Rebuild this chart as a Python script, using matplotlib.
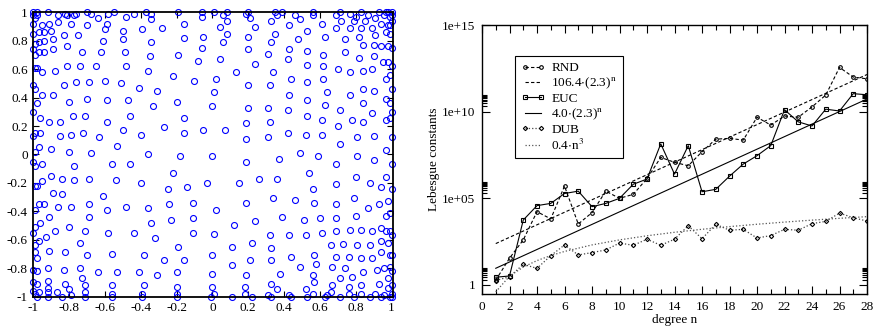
import numpy as np
import matplotlib
matplotlib.use('Agg')
import matplotlib.pyplot as plt
from matplotlib.ticker import MultipleLocator, FixedLocator, FixedFormatter, NullFormatter

plt.rcParams['font.family'] = ['Liberation Serif', 'DejaVu Serif']
plt.rcParams['mathtext.fontset'] = 'stix'
plt.rcParams['font.size'] = 9.5

# interpolation nodes on the square
nodes = [
    # upper left
    (-1.0,1.0),(-0.98,1.0),(-0.92,1.0),(-0.82,0.99),(-0.76,0.99),(-0.70,1.0),(-0.68,0.99),(-0.58,0.99),
    (-0.55,1.0),(-0.44,0.99),(-0.37,1.0),(-0.34,0.99),(-0.19,1.0),
    (-1.0,0.98),(-0.98,0.98),(-0.99,0.96),(-0.86,0.98),(-0.81,0.98),(-0.77,0.98),(-0.64,0.96),(-0.48,0.97),(-0.34,0.95),
    (-1.0,0.92),(-0.95,0.91),(-0.91,0.92),(-0.86,0.93),(-0.79,0.92),(-0.70,0.91),(-0.59,0.92),(-0.28,0.89),(-0.16,0.92),
    (-1.0,0.85),(-0.97,0.86),(-0.94,0.86),(-0.90,0.87),(-0.83,0.84),(-0.75,0.84),(-0.60,0.88),(-0.50,0.87),(-0.39,0.88),
    (-0.99,0.78),(-0.97,0.79),(-0.94,0.80),(-0.89,0.81),(-0.61,0.80),(-0.50,0.81),(-0.34,0.79),(-0.16,0.82),
    (-1.0,0.74),(-0.99,0.70),(-0.97,0.72),(-0.94,0.72),(-0.89,0.74),(-0.81,0.76),(-0.73,0.72),(-0.62,0.72),
    (-0.49,0.72),(-0.35,0.69),(-0.19,0.70),(-0.08,0.66),
    (-0.99,0.61),(-0.98,0.61),(-0.95,0.58),(-0.88,0.59),(-0.81,0.62),(-0.74,0.62),(-0.65,0.62),(-0.48,0.62),(-0.36,0.59),
    (-0.22,0.55),(-0.10,0.52),
    (-1.0,0.49),(-0.99,0.46),(-0.83,0.49),(-0.76,0.51),(-0.69,0.51),(-0.60,0.52),(-0.51,0.50),(-0.41,0.47),(-0.31,0.45),
    (-0.95,0.42),(-0.89,0.42),(-0.80,0.37),(-0.70,0.39),(-0.59,0.38),(-0.47,0.38),(-0.33,0.34),(-0.20,0.37),(-0.98,0.36),
    (-1.0,0.30),(-0.96,0.26),(-0.91,0.23),(-0.85,0.23),(-0.78,0.27),(-0.71,0.27),(-0.59,0.23),(-0.46,0.27),(-0.16,0.26),
    (-0.27,0.19),(-1.0,0.13),(-0.99,0.15),(-0.96,0.15),(-0.85,0.13),(-0.79,0.14),(-0.72,0.15),(-0.63,0.12),(-0.50,0.17),
    (-0.40,0.14),(-0.16,0.15),
    (-0.97,0.05),(-0.90,0.04),(-0.80,0.02),(-0.68,0.01),(-0.53,0.06),(-0.36,0.00),(-0.18,-0.01),(-0.99,0.02),
    # upper right
    (-0.06,1.0),(-0.06,0.97),(0.01,1.0),(0.06,0.98),(0.08,1.0),(0.08,0.94),(0.19,0.99),(0.20,1.0),(0.21,0.96),
    (0.35,1.0),(0.36,0.98),(0.39,1.0),(0.46,0.98),(0.49,0.95),(0.56,1.0),(0.56,0.98),(0.69,0.98),(0.71,1.0),
    (0.72,0.94),(0.77,0.99),(0.79,0.94),(0.80,0.97),(0.83,1.0),(0.85,0.94),(0.87,0.98),(0.91,0.96),(0.93,1.0),
    (0.94,0.92),(0.96,0.98),(0.97,1.0),(0.98,1.0),(0.99,0.97),(1.0,0.94),(1.0,1.0),(1.0,0.98),(0.98,0.91),(0.99,0.91),
    (0.04,0.90),(0.24,0.90),(0.33,0.94),(0.43,0.91),(0.53,0.87),(0.61,0.92),(0.69,0.89),(0.77,0.89),(0.83,0.89),
    (0.89,0.89),(0.97,0.86),(0.99,0.85),(-0.05,0.83),(0.08,0.85),(0.20,0.83),(0.35,0.85),(0.48,0.81),(0.63,0.83),
    (0.82,0.83),(0.91,0.84),
    (0.06,0.79),(-0.06,0.75),(0.20,0.74),(0.33,0.79),(0.43,0.74),(0.53,0.73),(0.74,0.81),(0.74,0.72),(0.84,0.77),
    (0.90,0.77),(0.94,0.76),(0.98,0.76),(1.0,0.75),
    (0.04,0.67),(0.24,0.64),(0.31,0.71),(0.42,0.67),(0.53,0.63),(0.62,0.70),(0.62,0.62),(0.82,0.68),(0.90,0.69),
    (0.95,0.65),(0.98,0.65),(1.0,0.62),
    (0.13,0.58),(0.34,0.58),(0.70,0.60),(0.77,0.58),(0.84,0.59),(0.89,0.60),(0.99,0.56),(0.97,0.53),(0.02,0.53),
    (0.20,0.49),(0.32,0.49),(0.44,0.53),(0.53,0.51),(0.62,0.53),
    (0.01,0.44),(0.43,0.42),(0.64,0.44),(0.77,0.42),(0.84,0.46),(0.90,0.45),(1.0,0.46),(0.97,0.39),
    (0.0,0.34),(0.20,0.33),(0.31,0.33),(0.42,0.31),(0.53,0.38),(0.63,0.35),(0.71,0.31),(0.84,0.36),(0.99,0.36),(0.89,0.29),
    (-0.05,0.17),(0.07,0.17),(0.19,0.22),(0.32,0.23),(0.53,0.27),(0.61,0.24),(0.70,0.20),(0.78,0.24),(0.84,0.23),
    (0.97,0.24),(0.99,0.26),(1.0,0.30),
    (0.19,0.11),(0.31,0.12),(0.42,0.15),(0.52,0.14),(0.61,0.14),(0.71,0.07),(0.81,0.12),(0.90,0.13),(1.0,0.12),
    (0.0,-0.01),(0.37,-0.03),(0.49,0.01),(0.59,-0.01),(0.81,-0.01),(0.97,0.03),
    # lower left
    (-1.0,-0.05),(-0.99,-0.08),(-0.95,-0.07),(-0.77,-0.08),(-0.56,-0.07),(-0.46,-0.07),(-0.22,-0.13),
    (-0.90,-0.15),(-0.84,-0.17),(-0.77,-0.18),(-0.69,-0.17),(-0.54,-0.18),(-0.40,-0.20),(-0.25,-0.24),(-0.14,-0.23),
    (-0.99,-0.22),(-0.98,-0.22),(-0.95,-0.19),
    (-0.89,-0.27),(-0.84,-0.28),(-0.61,-0.29),(-0.11,-0.34),(-0.94,-0.35),(-0.97,-0.35),(-0.86,-0.37),(-0.79,-0.37),
    (-0.69,-0.35),(-0.59,-0.39),(-0.48,-0.37),(-0.36,-0.38),(-0.24,-0.35),
    (-0.99,-0.39),(-0.91,-0.44),(-0.69,-0.44),(-0.34,-0.48),(-0.23,-0.46),(-0.11,-0.45),(-0.96,-0.48),(-0.99,-0.51),
    (-0.88,-0.54),(-0.80,-0.51),(-0.71,-0.54),(-0.58,-0.55),(-0.44,-0.55),(-0.32,-0.59),(-0.11,-0.55),(-1.0,-0.55),
    (-0.93,-0.58),(-0.97,-0.61),(-0.99,-0.64),(-0.19,-0.65),
    (-0.91,-0.68),(-0.82,-0.69),(-0.74,-0.62),(-0.70,-0.71),(-0.56,-0.70),(-0.38,-0.71),(-0.27,-0.74),(-0.16,-0.74),
    (-0.99,-0.69),(-0.98,-0.73),
    (-1.0,-0.81),(-0.92,-0.80),(-0.83,-0.81),(-0.74,-0.80),(-0.64,-0.83),(-0.53,-0.83),(-0.41,-0.83),(-0.31,-0.85),
    (-0.20,-0.83),(-0.98,-0.82),
    (-1.0,-0.90),(-0.98,-0.91),(-0.92,-0.89),(-0.82,-0.91),(-0.73,-0.87),(-0.71,-0.92),(-0.56,-0.92),(-0.38,-0.92),(-0.20,-0.93),
    (-1.0,-0.96),(-0.99,-0.98),(-0.97,-0.97),(-0.92,-0.94),(-0.92,-0.97),(-0.87,-0.97),(-0.80,-0.95),(-0.79,-0.99),
    (-0.71,-0.97),(-0.71,-1.0),(-0.56,-0.98),(-0.56,-1.0),(-0.39,-0.98),(-0.39,-1.0),(-0.20,-0.98),(-0.20,-1.0),
    (-0.98,-1.0),(-0.92,-1.0),(-0.84,-1.0),
    # lower right
    (0.19,-0.05),(0.69,-0.07),(0.90,-0.04),(1.0,-0.07),
    (-0.03,-0.20),(0.15,-0.20),(0.26,-0.17),(0.36,-0.17),(0.54,-0.13),(0.56,-0.24),(0.69,-0.21),(0.80,-0.16),
    (0.88,-0.20),(0.94,-0.23),(0.97,-0.16),(1.0,-0.24),
    (0.02,-0.39),(0.19,-0.34),(0.34,-0.31),(0.46,-0.32),(0.57,-0.34),(0.69,-0.35),(0.79,-0.31),(0.87,-0.38),
    (0.93,-0.35),(0.98,-0.33),(0.99,-0.41),
    (0.12,-0.50),(0.24,-0.47),(0.39,-0.44),(0.51,-0.46),(0.60,-0.45),(0.69,-0.45),(0.80,-0.43),(0.97,-0.43),
    (0.01,-0.56),(0.32,-0.57),(0.43,-0.57),(0.52,-0.57),(0.61,-0.55),(0.69,-0.54),(0.77,-0.53),(0.83,-0.53),
    (0.89,-0.54),(0.94,-0.52),(0.97,-0.54),(0.99,-0.54),(1.0,-0.57),
    (0.11,-0.65),(0.22,-0.62),(0.33,-0.66),(0.66,-0.64),(0.73,-0.63),(0.81,-0.64),(0.88,-0.64),(0.94,-0.61),
    (0.98,-0.62),(0.0,-0.71),
    (0.21,-0.74),(0.33,-0.74),(0.44,-0.72),(0.57,-0.71),(0.69,-0.72),(0.76,-0.72),(0.83,-0.73),(0.89,-0.73),
    (0.94,-0.69),(0.99,-0.71),(1.0,-0.71),
    (0.11,-0.78),(0.19,-0.85),(0.38,-0.84),(0.49,-0.79),(0.58,-0.77),(0.67,-0.79),(0.74,-0.80),(0.84,-0.83),
    (0.92,-0.81),(0.96,-0.80),(0.99,-0.79),(1.0,-0.82),
    (0.0,-0.84),(0.0,-0.93),(0.18,-0.93),(0.33,-0.91),(0.36,-0.95),(0.56,-0.85),(0.57,-0.90),(0.52,-0.95),
    (0.67,-0.92),(0.71,-0.87),(0.78,-0.86),(0.76,-0.93),(0.83,-0.92),(0.93,-0.91),(0.98,-0.87),(1.0,-0.92),
    (-0.01,-1.0),(0.01,-0.98),(0.11,-1.0),(0.18,-0.98),(0.22,-1.0),(0.31,-0.99),(0.33,-1.0),(0.43,-0.99),
    (0.44,-1.0),(0.53,-1.0),(0.56,-0.98),(0.63,-1.0),(0.64,-0.99),(0.66,-0.97),(0.71,-1.0),(0.76,-0.98),
    (0.79,-1.0),(0.83,-0.98),(0.88,-1.0),(0.91,-0.98),(0.94,-1.0),(0.96,-0.99),(0.98,-0.94),(0.99,-1.0),
    (1.0,-0.98),(1.0,-1.0),
]

# Lebesgue constants vs degree (right panel)
degree = list(range(1, 29))
rnd = [1.9, 35, 400, 1.7e4, 6.5e3, 5.1e5, 3.3e3, 1.5e4, 2.6e5, 1.0e5, 1.7e5, 1.4e6, 2.3e7, 1.2e7,
       7.6e6, 4.9e7, 2.6e8, 2.9e8, 2.3e8, 4.8e9, 1.7e9, 5.6e9, 4.8e9, 1.9e10, 9.1e10, 3.6e12, 1.0e12, 7.9e11]
euc = [2.8, 3.3, 5.6e3, 3.8e4, 5.1e4, 1.9e5, 2.6e5, 3.3e4, 5.1e4, 1.0e5, 6.5e5, 1.3e6, 1.4e8, 2.5e6,
       1.1e8, 2.4e5, 3.3e5, 1.9e6, 9.5e6, 2.9e7, 1.1e8, 1.3e10, 2.6e9, 1.5e9, 1.4e10, 1.1e10, 1.1e11, 9.5e10]
dub = [1.8, 3.0, 15.5, 9.1, 49, 204, 54, 74, 105, 263, 195, 437, 195, 437, 2630, 468, 3160, 1445,
       1622, 513, 708, 1622, 1445, 3467, 4677, 1.41e4, 7586, 4898]

# fitted curves, read at a few degrees
fit_exp_n = [1, 28]
rnd_fit = [245, 1.4e12]
euc_fit = [9.2, 5.4e10]
fit_cub_n = [1, 2, 3, 4, 5, 6, 8, 10, 12, 14, 16, 18, 20, 22, 24, 26, 28]
dub_fit = [0.4, 3.2, 10.8, 25.6, 50, 86, 205, 400, 691, 1098, 1638, 2333, 3200, 4259, 5530, 7030, 8781]

fig = plt.figure(figsize=(8.74, 3.30), dpi=100)

# ---- left: the points
ax1 = fig.add_axes([0.038, 0.1015, 0.412, 0.861])
pts = np.array(nodes)
ax1.plot(pts[:, 0], pts[:, 1], 'o', ms=4.3, mfc='none', mec='blue', mew=0.8, clip_on=False)
ax1.set_xlim(-1, 1.01)
ax1.set_ylim(-1, 1)
ax1.xaxis.set_major_locator(MultipleLocator(0.2))
ax1.yaxis.set_major_locator(MultipleLocator(0.2))
ax1.xaxis.set_major_formatter(plt.FuncFormatter(lambda v, p: '%g' % round(v, 1) if abs(v) > 1e-9 else '0'))
ax1.yaxis.set_major_formatter(plt.FuncFormatter(lambda v, p: '%g' % round(v, 1) if abs(v) > 1e-9 else '0'))
ax1.tick_params(direction='in', length=4, width=0.8, top=True, right=True, pad=4)
for s in ax1.spines.values():
    s.set_linewidth(1.3)

# ---- right: Lebesgue constants
ax2 = fig.add_axes([0.5515, 0.109, 0.4405, 0.815])
ax2.set_yscale('log')
ax2.plot(degree, rnd, 'k--', marker='o', ms=2.6, mfc='none', mew=0.8, lw=0.8, dashes=(3, 2), label='RND')
ax2.plot(fit_exp_n, rnd_fit, 'k--', lw=0.8, dashes=(3, 2), label=r'106.4$\cdot$(2.3)$^{\rm n}$')
ax2.plot(degree, euc, 'k-', marker='s', ms=2.5, mfc='none', mew=0.8, lw=0.8, label='EUC')
ax2.plot(fit_exp_n, euc_fit, 'k-', lw=0.8, label=r'4.0$\cdot$(2.3)$^{\rm n}$')
ax2.plot(degree, dub, ':', color='#444444', marker='D', ms=2.2, mfc='none', mec='black', mew=0.8, lw=0.9,
         label='DUB')
ax2.plot(fit_cub_n, dub_fit, ':', color='#555555', lw=0.9, label=r'0.4$\cdot$n$^3$')

ax2.set_xlim(0, 28)
ax2.set_ylim(0.3, 1e15)
ax2.xaxis.set_major_locator(MultipleLocator(2))
ax2.xaxis.set_minor_locator(MultipleLocator(1))
ax2.yaxis.set_major_locator(FixedLocator([1, 1e5, 1e10, 1e15]))
ax2.yaxis.set_major_formatter(FixedFormatter(['1', '1e+05', '1e+10', '1e+15']))
minors = [k * 10.0 ** m for m in (0, 5, 10) for k in range(2, 10)]
ax2.yaxis.set_minor_locator(FixedLocator(minors))
ax2.yaxis.set_minor_formatter(NullFormatter())
ax2.tick_params(which='major', direction='in', length=6, width=0.8, top=True, right=True, pad=5)
ax2.tick_params(which='minor', direction='in', length=3.5, width=0.8, top=True, right=True)
ax2.set_xlabel('degree n', labelpad=1)
ax2.set_ylabel('Lebesgue constants', labelpad=1)
for s in ax2.spines.values():
    s.set_linewidth(1.0)

leg = ax2.legend(loc='upper left', bbox_to_anchor=(0.086, 0.885), borderaxespad=0, numpoints=2,
                 handlelength=1.8, fancybox=False, framealpha=1, edgecolor='black', borderpad=0.45,
                 labelspacing=0.12, handletextpad=0.5, fontsize=9.5)
leg.get_frame().set_linewidth(0.8)

fig.savefig('out.png', dpi=100)
